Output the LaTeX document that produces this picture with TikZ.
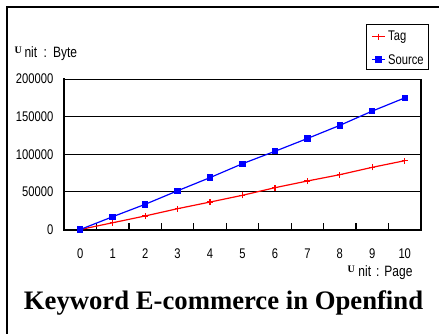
\documentclass[tikz,border=0pt]{standalone}
\usepackage{fontspec}
\setmainfont{Liberation Serif}
\newfontfamily\chartfont[FakeStretch=0.8]{Liberation Sans}
\newcommand{\unitU}{\raisebox{4pt}{\rmfamily\bfseries\fontsize{10}{10}\selectfont U}}
\begin{document}
\begin{tikzpicture}[x=1pt,y=-1pt,
  frameline/.style={line width=2.4pt,black},
  axisline/.style={line width=2pt,black,line cap=rect},
  gridline/.style={line width=1.1pt,black},
  tagline/.style={red,line width=1.2pt},
  srcline/.style={blue,line width=1.2pt},
  lbl/.style={font=\chartfont\fontsize{14}{16}\selectfont,inner sep=0pt},
  unitlbl/.style={font=\chartfont\fontsize{15}{17}\selectfont,inner sep=0pt,anchor=base west},
  titletext/.style={font=\rmfamily\bfseries\fontsize{26.7}{30}\selectfont,inner sep=0pt,anchor=base}
]
\useasboundingbox (0,0) rectangle (439,333);

% outer frame (only top and left edges inside the page)
\draw[frameline] (7,334) -- (7,7) -- (440,7);

% geometry of the plot area
\def\pl{64}\def\pr{421}\def\pt{79.1}\def\pb{229.5}
\def\cw{32.45}% width of one category
\def\vs{37.6}% pixels per 50 thousand

% horizontal gridlines and plot box
\foreach \k in {1,2,3,4}
  \draw[gridline] (\pl,\pb-\k*\vs) -- (\pr,\pb-\k*\vs);
\draw[gridline] (\pr,\pt) -- (\pr,\pb);
\draw[axisline] (\pl,\pt) -- (\pl,\pb) -- (\pr,\pb);

% tick marks between categories, pointing inward
\foreach \i in {1,...,10}
  \draw[line width=1.2pt] (\pl+\i*\cw,\pb) -- (\pl+\i*\cw,\pb-6.5);

% y-axis labels
\foreach \v/\t in {0/0,1/50000,2/100000,3/150000,4/200000}
  \node[lbl,anchor=east] (y\v) at (53.5,\pb-\v*\vs) {\t};

% x-axis labels
\foreach \i in {0,...,10}
  \node[lbl] (x\i) at (\pl+\cw*\i+\cw/2,253.3) {\i};

% unit labels
\node[unitlbl] (unity) at (14.5,57.8) {\unitU\hspace{2.6pt}nit\hspace{6.5pt}:\hspace{6pt}Byte};
\node[unitlbl] (unitx) at (347.5,276) {\unitU\hspace{3.5pt}nit\hspace{5pt}:\hspace{5pt}Page};

% data points (category, values in thousands)
\foreach \i/\s/\g in {0/0/0,1/17/9,2/33.5/18,3/51.5/27.7,4/69/36.5,
    5/87.5/45.5,6/104/55.6,7/121/64.5,8/138.5/72.9,9/157.5/82.7,10/175/91.5}{
  \coordinate (s\i) at (\pl+\cw*\i+\cw/2,\pb-\s/50*\vs);
  \coordinate (g\i) at (\pl+\cw*\i+\cw/2,\pb-\g/50*\vs);
}

% Tag series
\draw[tagline] (g0) \foreach \i in {1,...,10}{ -- (g\i)};
\foreach \i in {0,...,10}
  \draw[tagline] ([xshift=-3pt]g\i) -- ([xshift=3pt]g\i) ([yshift=-3pt]g\i) -- ([yshift=3pt]g\i);

% Source series
\draw[srcline] (s0) \foreach \i in {1,...,10}{ -- (s\i)};
\foreach \i in {0,...,10}
  \fill[blue] ([shift={(-3.2pt,-3.2pt)}]s\i) rectangle ([shift={(3.2pt,3.2pt)}]s\i);

% legend
\draw[line width=1pt] (366.7,24) rectangle (428.3,69.3);
\coordinate (lt1) at (372,36.7); \coordinate (lt2) at (385,36.7);
\coordinate (ls1) at (372,59.3); \coordinate (ls2) at (385,59.3);
\draw[tagline] (lt1) -- (lt2);
\draw[tagline] (378.5,33.7) -- (378.5,39.7);
\draw[srcline] (ls1) -- (ls2);
\fill[blue] (375.3,56.1) rectangle (381.7,62.5);
\node[lbl,anchor=west] (legtag) at (388,36.7) {Tag};
\node[lbl,anchor=west] (legsrc) at (388,59.3) {Source};

% title
\node[titletext] (title) at (223.5,309.3) {Keyword E-commerce in Openfind};
\end{tikzpicture}
\end{document}
